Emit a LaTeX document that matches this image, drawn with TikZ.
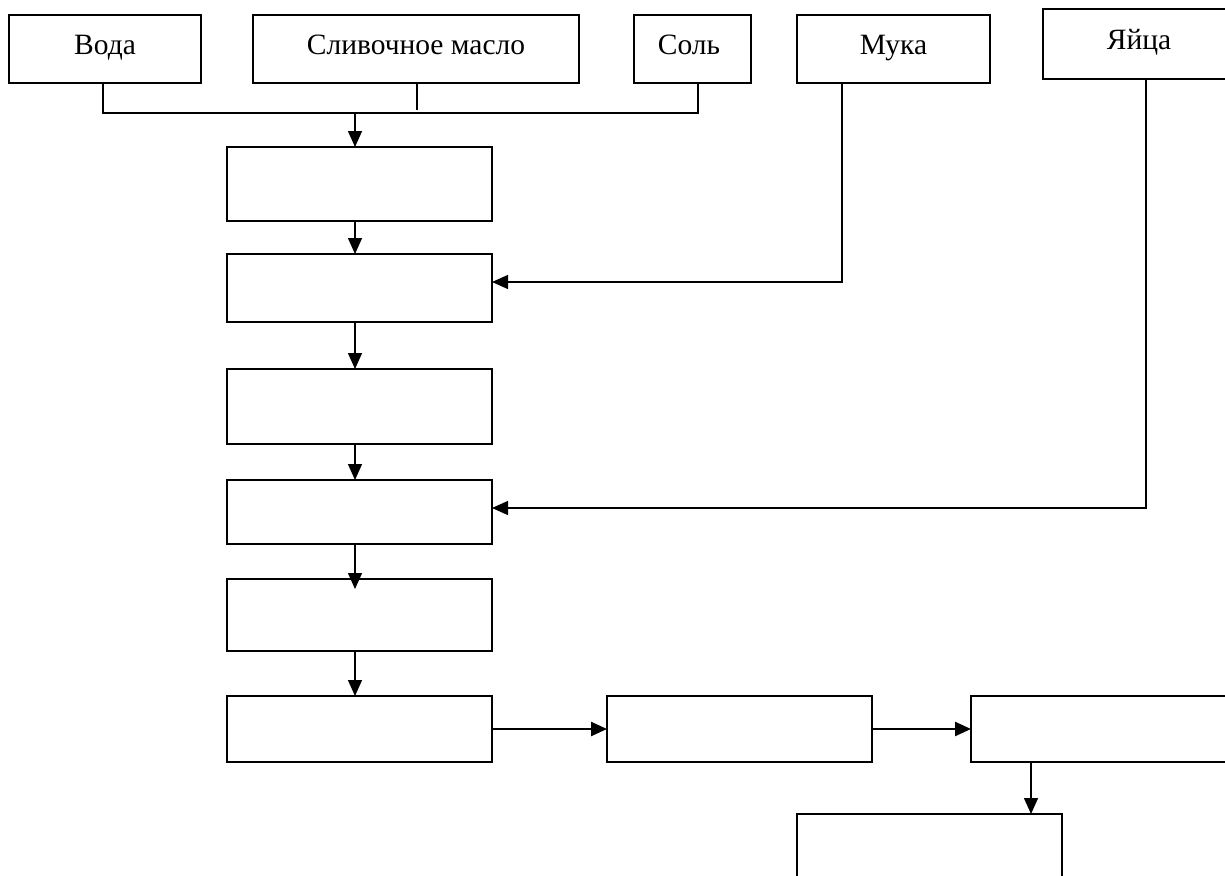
\documentclass[tikz,border=0pt]{standalone}
\usepackage{fontspec}
\setmainfont{Liberation Serif}
\usetikzlibrary{arrows.meta}
\tikzset{
  box/.style={draw=black, line width=1.8pt, rectangle, inner sep=0pt, outer sep=0pt},
  conn/.style={draw=black, line width=1.4pt},
  arr/.style={conn, -{Triangle[length=16pt,width=14pt]}},
  thickarr/.style={draw=black, line width=2.4pt, -{Triangle[length=16pt,width=14pt]}},
  lbl/.style={anchor=base, inner sep=0pt, font=\fontsize{29.5}{34}\selectfont}
}
\begin{document}
\begin{tikzpicture}[x=1pt,y=-1pt]
\useasboundingbox (0,0) rectangle (1225,875);
\clip (0,0) rectangle (1225,875);
% top ingredient boxes
\node[box, minimum width=192pt, minimum height=68pt] (voda) at (105,49) {};
\node[box, minimum width=326pt, minimum height=68pt] (maslo) at (416,49) {};
\node[box, minimum width=117pt, minimum height=68pt] (sol) at (692.5,49) {};
\node[box, minimum width=193pt, minimum height=68pt] (muka) at (893.5,49) {};
\node[box, minimum width=192pt, minimum height=70pt] (yaytsa) at (1139,44) {};
\node[lbl] (tvoda) at (105,55) {Вода};
\node[lbl] (tmaslo) at (416,55) {Сливочное масло};
\node[lbl] (tsol) at (689,55) {Соль};
\node[lbl] (tmuka) at (893.5,55) {Мука};
\node[lbl] (tyaytsa) at (1139,50) {Яйца};
% process boxes
\node[box, minimum width=265pt, minimum height=74pt] (b1) at (359.5,184) {};
\node[box, minimum width=265pt, minimum height=68pt] (b2) at (359.5,288) {};
\node[box, minimum width=265pt, minimum height=75pt] (b3) at (359.5,406.5) {};
\node[box, minimum width=265pt, minimum height=64pt] (b4) at (359.5,512) {};
\node[box, minimum width=265pt, minimum height=72pt] (b5) at (359.5,615) {};
\node[box, minimum width=265pt, minimum height=66pt] (b6) at (359.5,729) {};
\node[box, minimum width=265pt, minimum height=66pt] (b7) at (739.5,729) {};
\node[box, minimum width=265pt, minimum height=66pt] (b8) at (1103.5,729) {};
\node[box, minimum width=265pt, minimum height=72pt] (b9) at (929.5,850) {};
% helper coordinates
\coordinate (vx) at (103,0);
\coordinate (mx) at (417,0);
\coordinate (sx) at (698,0);
\coordinate (jn) at (355,113);
\coordinate (ax) at (355,0);
\coordinate (mukax) at (842,0);
\coordinate (mukay) at (0,282);
\coordinate (yx) at (1146,0);
\coordinate (yy) at (0,508);
\coordinate (dx) at (1031,0);
% joining line of the first three ingredients
\draw[conn] (vx |- voda.south) |- (jn) -| (sx |- sol.south);
\draw[conn] (mx |- maslo.south) -- ++(0,27);
\draw[arr] (jn) -- (ax |- b1.north);
% vertical chain
\draw[arr] (ax |- b1.south) -- (ax |- b2.north);
\draw[arr] (ax |- b2.south) -- (ax |- b3.north);
\draw[arr] (ax |- b3.south) -- (ax |- b4.north);
\draw[arr] (ax |- b4.south) -- ([yshift=-10pt]ax |- b5.north);
\draw[arr] (ax |- b5.south) -- (ax |- b6.north);
% side inputs
\draw[arr] (mukax |- muka.south) |- (mukay -| b2.east);
\draw[arr] (yx |- yaytsa.south) |- (yy -| b4.east);
% bottom row
\draw[thickarr] (b6.east) -- (b7.west);
\draw[thickarr] (b7.east) -- (b8.west);
\draw[arr] (dx |- b8.south) -- (dx |- b9.north);
\end{tikzpicture}
\end{document}
